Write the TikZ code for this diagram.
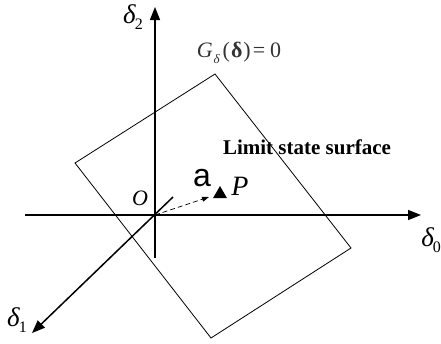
\documentclass[tikz,border=0pt]{standalone}
\usepackage{fontspec}
\setmainfont{Liberation Serif}
\newfontfamily\sansf{Liberation Sans}
\usetikzlibrary{arrows.meta,shapes.geometric}
\tikzset{
  axis/.style={line width=1.2pt,-{Triangle[length=13pt,width=10pt]}},
  diagaxis/.style={line width=1.5pt,-{Triangle[length=13pt,width=10pt]}},
  surf/.style={line width=0.8pt},
  lbl/.style={inner sep=0pt,font=\fontsize{22}{22}\selectfont},
  dashedarrow/.style={line width=0.7pt,dashed,dash pattern=on 5pt off 3pt,-{Triangle[length=7pt,width=5pt]}}
}
\newcommand{\dsub}[1]{{\itshape δ}\kern-1pt\raisebox{-6pt}{\fontsize{16}{16}\selectfont #1}}
\begin{document}
\begin{tikzpicture}[x=1pt,y=-1pt]
\useasboundingbox (0,0) rectangle (441,343);
% surface
\coordinate (s1) at (215,74);
\coordinate (s2) at (351,248);
\coordinate (s3) at (211,338);
\coordinate (s4) at (75,163);
\draw[surf] (s1) -- (s2) -- (s3) -- (s4) -- cycle;
% axes
\coordinate (O) at (155,215);
\coordinate (xs) at (25,215);
\coordinate (xe) at (421,215);
\coordinate (ys) at (155,258);
\coordinate (ye) at (155,7);
\coordinate (ds) at (173,197);
\coordinate (de) at (32,333);
\draw[axis] (xs) -- (xe);
\draw[axis] (ys) -- (ye);
\draw[diagaxis] (ds) -- (de);
% point P
\node[regular polygon,regular polygon sides=3,fill,inner sep=0pt,minimum size=16pt] (tri) at (220,194) {};
\coordinate (ae) at (209,197);
\draw[dashedarrow] (O) -- (ae);
% labels
\node[lbl] (Olbl) at (140,198) {\itshape O};
\node[lbl,font=\sansf\fontsize{32}{32}\selectfont] (albl) at (202,178) {a};
\node[lbl,font=\fontsize{28}{28}\selectfont] (Plbl) at (240,186) {\itshape P};
\node[lbl,font=\fontsize{27}{27}\selectfont] (d2) at (133,17) {\dsub{2}};
\node[lbl,font=\fontsize{27}{27}\selectfont,anchor=east] (d0) at (441,240) {\dsub{0}};
\node[lbl,font=\fontsize{27}{27}\selectfont] (d1) at (17,320) {\dsub{1}};
\node[lbl,text=black!80] (G) at (239,53) {{\itshape G}\kern1pt\raisebox{-6pt}{\fontsize{13}{13}\selectfont\itshape δ}\kern3pt(\kern1pt\textbf{δ}\kern1pt)\kern2pt=\kern5pt0};
\node[lbl,font=\bfseries\fontsize{21}{21}\selectfont] (lss) at (307,147) {Limit state surface};
\end{tikzpicture}
\end{document}
